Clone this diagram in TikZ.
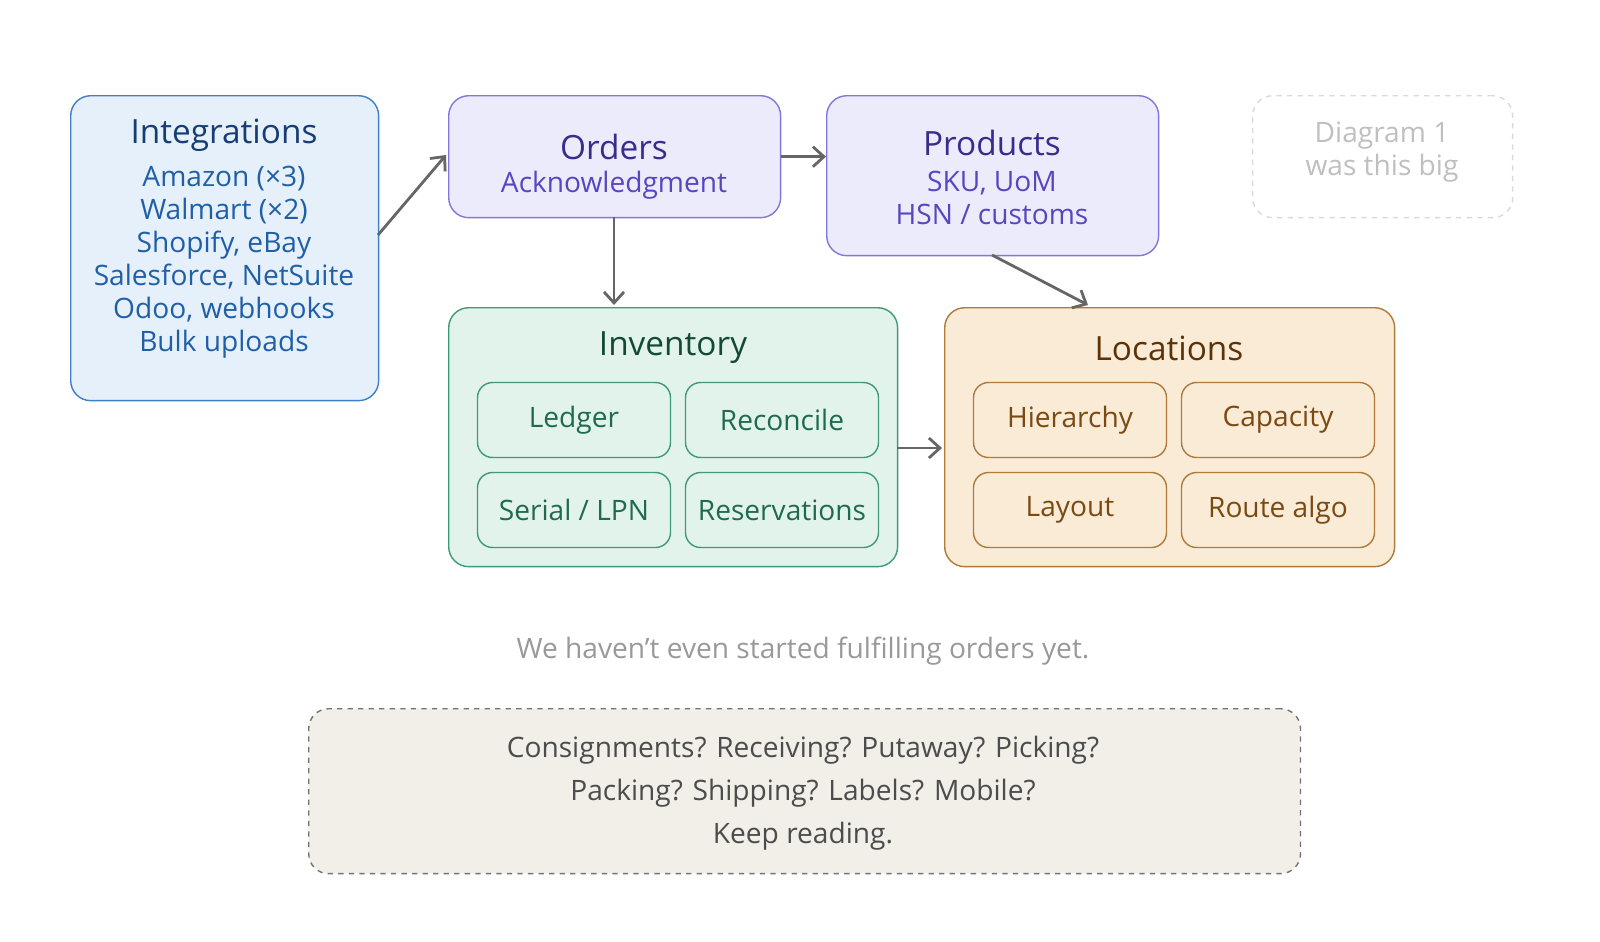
\documentclass[tikz,border=0pt]{standalone}
\usepackage{fontspec}
\setmainfont{Open Sans}
\usetikzlibrary{positioning,arrows.meta}
\definecolor{intfill}{HTML}{E6F0FA}\definecolor{intline}{HTML}{3F7FC9}
\definecolor{inttext}{HTML}{1F5FA8}\definecolor{inttitle}{HTML}{163E75}
\definecolor{ordfill}{HTML}{ECEBFC}\definecolor{ordline}{HTML}{8475DC}
\definecolor{ordtext}{HTML}{5646C0}\definecolor{ordtitle}{HTML}{392C8A}
\definecolor{invfill}{HTML}{E2F3EC}\definecolor{invline}{HTML}{3F9A75}
\definecolor{invtext}{HTML}{1F6B4C}\definecolor{invtitle}{HTML}{124A33}
\definecolor{locfill}{HTML}{FAEBD7}\definecolor{locline}{HTML}{B07A3A}
\definecolor{loctext}{HTML}{7A4A12}\definecolor{loctitle}{HTML}{5C3308}
\definecolor{notefill}{HTML}{F2EFE8}
\tikzset{
  box/.style={rounded corners=0.4cm, line width=0.8pt, anchor=north west},
  sub/.style={rounded corners=0.3cm, line width=0.8pt, minimum width=3.86cm,
    minimum height=1.5cm, font=\fontsize{16}{19}\selectfont},
  title/.style={font=\fontsize{19}{22}\selectfont},
  body/.style={font=\fontsize{16}{18.8}\selectfont, align=center},
  line/.style={draw, line width=1.6pt, color=black!60, -{Straight Barb[length=2.2mm,width=4mm]}}
}
\begin{document}
\begin{tikzpicture}[x=0.02cm, y=-0.02cm]
    \useasboundingbox (0,0) rectangle (1600,941);
    % Boxes
    \node [box, fill=intfill, draw=intline, minimum width=6.16cm, minimum height=6.1cm] (integ) at (70,95) {};
    \node [box, fill=ordfill, draw=ordline, minimum width=6.64cm, minimum height=2.44cm] (orders) at (448,95) {};
    \node [box, fill=ordfill, draw=ordline, minimum width=6.64cm, minimum height=3.2cm] (products) at (826,95) {};
    \node [box, dashed, draw=black!15, minimum width=5.2cm, minimum height=2.44cm] (diag) at (1252,95) {};
    \node [box, fill=invfill, draw=invline, minimum width=8.98cm, minimum height=5.18cm] (inventory) at (448,307) {};
    \node [box, fill=locfill, draw=locline, minimum width=9cm, minimum height=5.18cm] (locations) at (944,307) {};
    \node [box, dashed, fill=notefill, draw=black!55, minimum width=19.84cm, minimum height=3.3cm] (note) at (308,708) {};
    % Texts
    \node [title, text=inttitle] (integT) at (224,135) {Integrations};
    \node [body, text=inttext] (integL) at (224,262) {Amazon (×3)\\Walmart (×2)\\Shopify, eBay\\Salesforce, NetSuite\\Odoo, webhooks\\Bulk uploads};
    \node [title, text=ordtitle] (ordT) at (614,147) {Orders};
    \node [body, text=ordtext] (ordS) at (614,185) {Acknowledgment};
    \node [title, text=ordtitle] (prodT) at (992,143) {Products};
    \node [body, text=ordtext] (prodS) at (992,198) {SKU, UoM\\HSN / customs};
    \node [body, text=black!25] (diagT) at (1382,152) {Diagram 1\\was this big};
    \node [title, text=invtitle] (invT) at (673,348) {Inventory};
    \node [title, text=loctitle] (locT) at (1169,348) {Locations};
    % Sub boxes
    \node [sub, fill=invfill, draw=invline, text=invtext] (ledger) at (574,420) {Ledger};
    \node [sub, fill=invfill, draw=invline, text=invtext] (reconcile) at (782,420) {Reconcile};
    \node [sub, fill=invfill, draw=invline, text=invtext] (serial) at (574,510) {Serial / LPN};
    \node [sub, fill=invfill, draw=invline, text=invtext] (reserv) at (782,510) {Reservations};
    \node [sub, fill=locfill, draw=locline, text=loctext] (hier) at (1070,420) {Hierarchy};
    \node [sub, fill=locfill, draw=locline, text=loctext] (capacity) at (1278,420) {Capacity};
    \node [sub, fill=locfill, draw=locline, text=loctext] (layout) at (1070,510) {Layout};
    \node [sub, fill=locfill, draw=locline, text=loctext] (route) at (1278,510) {Route algo};
    \node [body, text=black!40] (yet) at (803,651) {We haven{\char"0027}t even started fulfilling orders yet.};
    \node [body, text=black!70, font=\fontsize{16}{24.5}\selectfont] (noteT) at (803,793) {Consignments? Receiving? Putaway? Picking?\\Packing? Shipping? Labels? Mobile?\\Keep reading.};
    % Arrows
    \coordinate (a1) at (378,235); \coordinate (a2) at (446,155);
    \path [line] (a1) -- (a2);
    \path [line] (orders.east) -- (products.west |- orders.east);
    \coordinate (ob) at (614,217); \coordinate (it) at (614,305);
    \path [line] (ob) -- (it);
    \coordinate (pb) at (992,255); \coordinate (lt) at (1088,305);
    \path [line] (pb) -- (lt);
    \coordinate (ir) at (897,448); \coordinate (ll) at (942,448);
    \path [line] (ir) -- (ll);
\end{tikzpicture}
\end{document}
